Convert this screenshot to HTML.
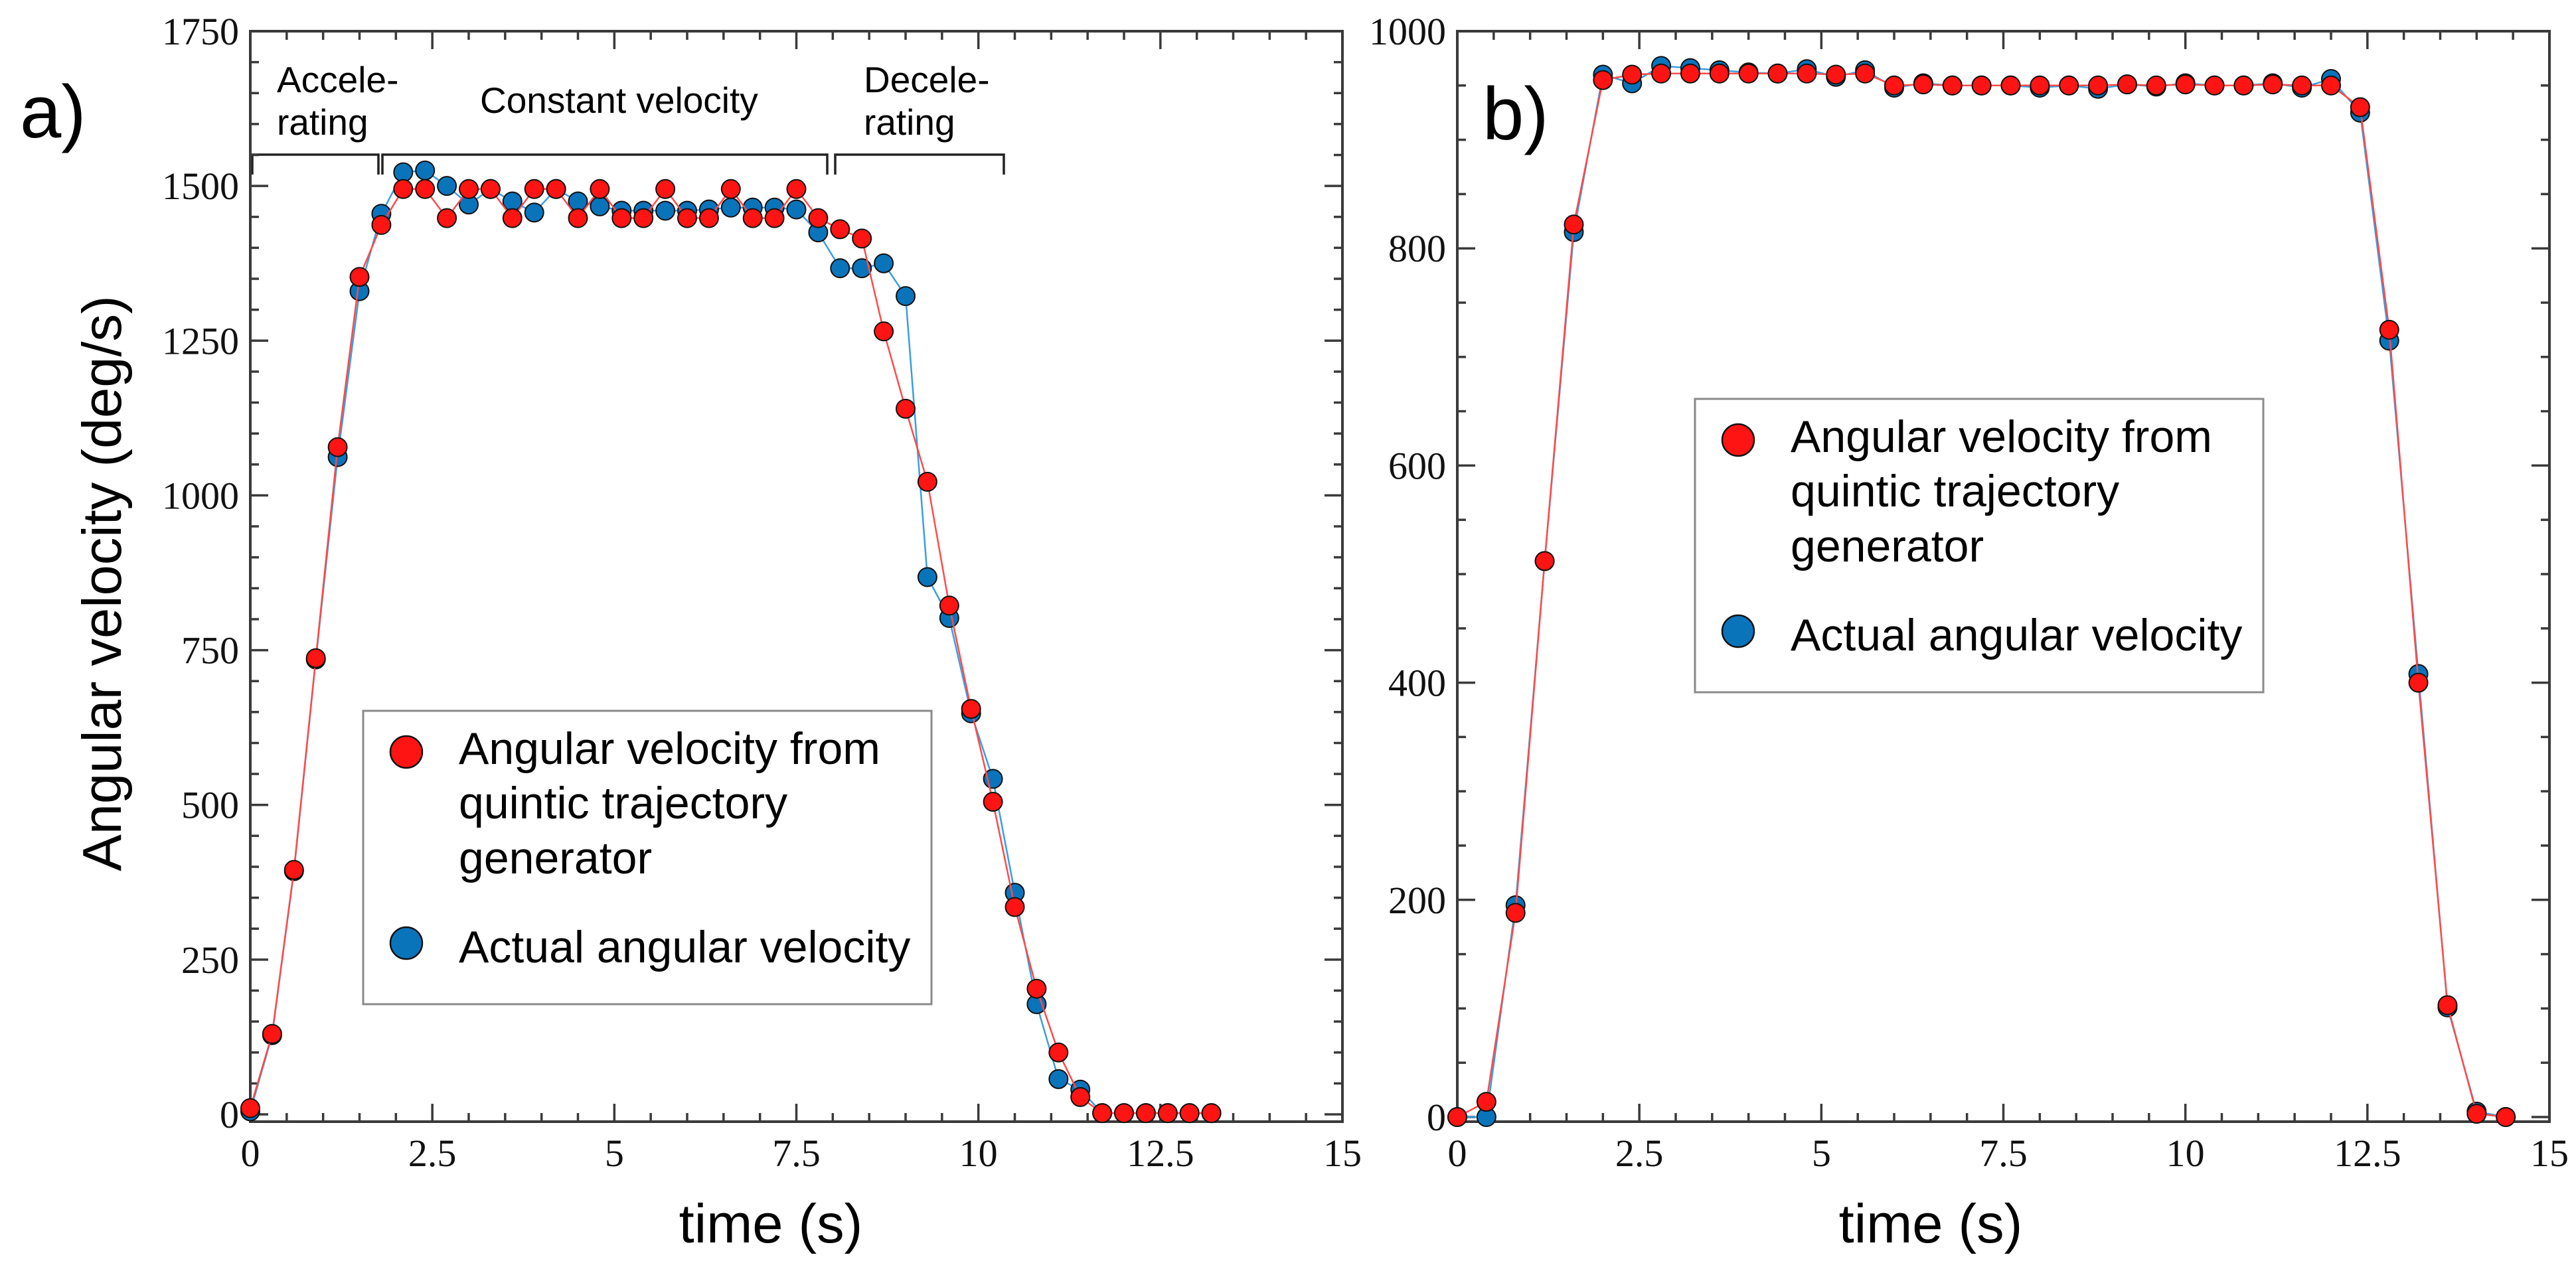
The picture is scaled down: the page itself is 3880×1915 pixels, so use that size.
<!DOCTYPE html>
<html><head><meta charset="utf-8">
<style>
html,body{margin:0;padding:0;background:#fff;}
svg{display:block;}
.tk{font-family:"Liberation Serif",serif;font-size:58px;fill:#111;}
.lab{font-family:"Liberation Sans",sans-serif;fill:#000;}
</style></head>
<body>
<svg id="fig" xmlns="http://www.w3.org/2000/svg" width="3880" height="1915" viewBox="0 0 3880 1915">
  <text class="lab" x="30" y="207" font-size="112">a)</text>
  <text class="lab" x="2233" y="210" font-size="112">b)</text>
  <text class="lab" transform="translate(182,879) rotate(-90)" text-anchor="middle" font-size="83">Angular velocity (deg/s)</text>
  <text class="lab" x="1161" y="1872" text-anchor="middle" font-size="83">time (s)</text>
  <text class="lab" x="2908" y="1872" text-anchor="middle" font-size="83">time (s)</text>
  <g font-family="Liberation Sans, sans-serif" font-size="55" fill="#000">
    <text x="417" y="139">Accele-</text>
    <text x="417" y="203">rating</text>
    <text x="723" y="170">Constant velocity</text>
    <text x="1301" y="139">Decele-</text>
    <text x="1301" y="203">rating</text>
    <path d="M380 263 V233 H570 V263" fill="none" stroke="#222" stroke-width="3.5"/>
    <path d="M576 263 V233 H1246 V263" fill="none" stroke="#222" stroke-width="3.5"/>
    <path d="M1258 263 V233 H1512 V263" fill="none" stroke="#222" stroke-width="3.5"/>
  </g>
</svg>
<script>
// ---- data ----
const timeA = [0,0.3,0.6,0.9,1.2,1.5,1.8,2.1,2.4,2.7,3.0,3.3,3.6,3.9,4.2,4.5,4.8,5.1,5.4,5.7,6.0,6.3,6.6,6.9,7.2,7.5,7.8,8.1,8.4,8.7,9.0,9.3,9.6,9.9,10.2,10.5,10.8,11.1,11.4,11.7,12.0,12.3,12.6,12.9,13.2];
const quinticA = [10,130,395,737,1078,1353,1437,1495,1495,1448,1495,1495,1448,1495,1495,1448,1495,1448,1448,1495,1448,1448,1495,1448,1448,1495,1448,1430,1415,1265,1140,1022,822,655,505,335,203,100,28,2,2,2,2,2,2];
const actualA = [5,128,393,735,1062,1330,1455,1522,1525,1500,1470,1495,1475,1457,1495,1475,1467,1460,1460,1460,1460,1462,1465,1465,1465,1462,1425,1367,1367,1375,1322,868,802,648,542,358,178,57,40,2,2,2,2,2,2];
const timeB = [0,0.4,0.8,1.2,1.6,2.0,2.4,2.8,3.2,3.6,4.0,4.4,4.8,5.2,5.6,6.0,6.4,6.8,7.2,7.6,8.0,8.4,8.8,9.2,9.6,10.0,10.4,10.8,11.2,11.6,12.0,12.4,12.8,13.2,13.6,14.0,14.4];
const quinticB = [0,14,188,512,822,955,960,961,961,961,961,961,961,960,961,950,951,950,950,950,950,950,950,951,950,951,950,950,951,950,950,930,725,400,103,3,0];
const actualB = [0,0,195,512,815,960,952,968,966,964,962,961,965,958,964,948,952,950,950,950,948,950,947,951,949,952,950,950,952,948,956,925,715,408,101,5,0];
const xTicks = [0,2.5,5,7.5,10,12.5,15];
const xTickLabels = ["0","2.5","5","7.5","10","12.5","15"];
const yTicksA = [0,250,500,750,1000,1250,1500,1750];
const yTicksB = [0,200,400,600,800,1000];

const NS = "http://www.w3.org/2000/svg";
const svg = document.getElementById('fig');
function mk(tag, attrs, parent){
  const e = document.createElementNS(NS, tag);
  for (const k in attrs) e.setAttribute(k, attrs[k]);
  (parent||svg).appendChild(e);
  return e;
}
const RED='#ff1414', BLUE='#0a74bb', REDL='#ff4a4a', BLUEL='#3a9ee0';

function panel(id, box, ymax, yTicks, yMinor, times, red, blue, legend){
  const g = mk('g',{});
  
  
  const xs = v => box.x0 + (box.x1-box.x0)*v/15;
  const ys = v => box.y0 - (box.y0-box.yt)*v/ymax;
  // frame
  const fr = mk('rect',{x:box.x0,y:box.yt,width:box.x1-box.x0,height:box.yb-box.yt,fill:'none',stroke:'#3a3a3a','stroke-width':4},g);
  
  
  // x ticks
  for (let i=0;i<=30;i++){
    const v=i*0.5, x=xs(v), L=(i%5===0)?27:13;
    mk('line',{x1:x,y1:box.yb,x2:x,y2:box.yb-L,stroke:'#3a3a3a','stroke-width':3.5},g);
    mk('line',{x1:x,y1:box.yt,x2:x,y2:box.yt+L,stroke:'#3a3a3a','stroke-width':3.5},g);
  }
  xTicks.forEach((v,i)=>{
    const t = mk('text',{x:xs(v),y:1757,'text-anchor':'middle',class:'tk'},g);
    t.textContent = xTickLabels[i];
    
    
  });
  // y ticks
  for (let v=0; v<=ymax+0.01; v+=yMinor){
    const y=ys(v), major = yTicks.some(t=>Math.abs(t-v)<0.01), L=major?27:13;
    mk('line',{x1:box.x0,y1:y,x2:box.x0+L,y2:y,stroke:'#3a3a3a','stroke-width':3.5},g);
    mk('line',{x1:box.x1,y1:y,x2:box.x1-L,y2:y,stroke:'#3a3a3a','stroke-width':3.5},g);
  }
  yTicks.forEach(v=>{
    const t = mk('text',{x:box.x0-17,y:ys(v)+20,'text-anchor':'end',class:'tk'},g);
    t.textContent = String(v);
    
    
  });
  // series
  function series(vals, lineCol, fill, name){
    const sg = mk('g',{},g);
    
    
    const pts = times.map((t,i)=>xs(t).toFixed(1)+','+ys(vals[i]).toFixed(1)).join(' ');
    const pl = mk('polyline',{points:pts,fill:'none',stroke:lineCol,'stroke-width':2.5},sg);
    
    
    times.forEach((t,i)=>{
      const c = mk('circle',{cx:xs(t),cy:ys(vals[i]),r:14,fill:fill,stroke:'#111','stroke-width':2},sg);
      
      
    });
  }
  series(blue, BLUEL, BLUE, 'actual-velocity-series');
  series(red, REDL, RED, 'quintic-velocity-series');
  // legend
  const lg = mk('g',{},g);
  
  
  const bx=legend.x, by=legend.y;
  mk('rect',{x:bx,y:by,width:legend.w,height:legend.h,fill:'#fff',stroke:'#8a8a8a','stroke-width':3},lg);
  const c1 = mk('circle',{cx:bx+65,cy:by+62,r:24,fill:RED,stroke:'#111','stroke-width':2.5},lg);
  
  
  const c2 = mk('circle',{cx:bx+65,cy:by+350,r:24,fill:BLUE,stroke:'#111','stroke-width':2.5},lg);
  
  
  const lines = [["Angular velocity from",80],["quintic trajectory",162],["generator",245],["Actual angular velocity",379]];
  lines.forEach(([s,dy])=>{
    const t = mk('text',{x:bx+144,y:by+dy,class:'lab','font-size':68},lg);
    t.textContent = s;
    
    
  });
}
panel('chart-a', {x0:377,x1:2022,yt:47,yb:1690,y0:1679}, 1750, yTicksA, 50, timeA, quinticA, actualA, {x:547,y:1071,w:856,h:442});
panel('chart-b', {x0:2195,x1:3840,yt:47,yb:1690,y0:1683}, 1000, yTicksB, 50, timeB, quinticB, actualB, {x:2553,y:601,w:856,h:442});
</script>
</body></html>
